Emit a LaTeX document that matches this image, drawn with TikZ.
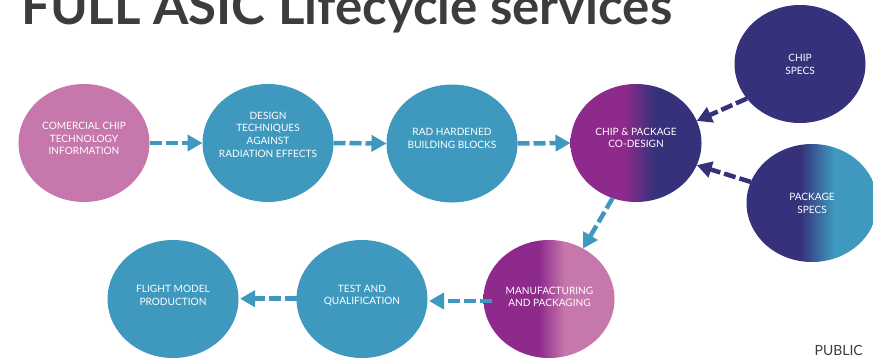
\documentclass[tikz,border=0pt]{standalone}
\usepackage{fontspec}
\setmainfont{Lato}
\usetikzlibrary{shapes.geometric,arrows.meta}
\definecolor{pinkc}{HTML}{C677AB}
\definecolor{teal}{HTML}{3F99BF}
\definecolor{navy}{HTML}{36317B}
\definecolor{purp}{HTML}{8E2A8B}
\definecolor{ttl}{HTML}{3C3C3B}
\pgfdeclarehorizontalshading{gradA}{100bp}{color(0bp)=(purp); color(45.5bp)=(purp); color(57bp)=(navy); color(100bp)=(navy)}
\pgfdeclarehorizontalshading{gradB}{100bp}{color(0bp)=(navy); color(45.5bp)=(navy); color(58.5bp)=(teal); color(100bp)=(teal)}
\pgfdeclarehorizontalshading{gradC}{100bp}{color(0bp)=(purp); color(46bp)=(purp); color(56bp)=(pinkc); color(100bp)=(pinkc)}
\tikzset{
  blob/.style={ellipse,minimum width=131pt,minimum height=118pt,inner sep=0pt,outer sep=0pt},
  lbl/.style={align=center,text=white,font=\fontsize{10.1}{12.7}\selectfont,inner sep=0pt},
  flow/.style={line width=4.5pt,dash pattern=on 12pt off 4pt,-{Triangle[length=15pt,width=16pt]}},
}
\begin{document}
\begin{tikzpicture}[x=1pt,y=-1pt]
\useasboundingbox (0,0) rectangle (873,357);
\clip (0,0) rectangle (873,357);
\node[anchor=base west,inner sep=0pt,text=ttl,font=\fontsize{51}{56}\selectfont\bfseries] (title) at (21,24) {FULL ASIC Lifecycle services};
\node[blob,fill=pinkc] (n1) at (84,143) {};
\node[blob,fill=teal] (n2) at (268,143) {};
\node[blob,fill=teal] (n3) at (452,143.5) {};
\node[blob,shading=gradA] (n4) at (636,143) {};
\node[blob,fill=navy] (n5) at (800,64) {};
\node[blob,shading=gradB] (n6) at (812,203) {};
\node[blob,shading=gradC] (n7) at (549,299) {};
\node[blob,fill=teal] (n8) at (362,299) {};
\node[blob,fill=teal] (n9) at (173,299) {};
\node[lbl] (t1) at (84,138.5) {COMERCIAL CHIP\\TECHNOLOGY\\INFORMATION};
\node[lbl] (t2) at (268,134.5) {DESIGN\\TECHNIQUES\\AGAINST\\RADIATION EFFECTS};
\node[lbl] (t3) at (452,138.5) {RAD HARDENED\\BUILDING BLOCKS};
\node[lbl] (t4) at (636,138) {CHIP \& PACKAGE\\CO-DESIGN};
\node[lbl] (t5) at (800,64.5) {CHIP\\SPECS};
\node[lbl] (t6) at (812,203.5) {PACKAGE\\SPECS};
\node[lbl] (t7) at (549.5,297) {MANUFACTURING\\AND PACKAGING};
\node[lbl] (t8) at (362,295.5) {TEST AND\\QUALIFICATION};
\node[lbl] (t9) at (173,295.5) {FLIGHT MODEL\\PRODUCTION};
\node[anchor=base east,inner sep=0pt,text=ttl,font=\fontsize{14}{16}\selectfont] (pub) at (863,355) {PUBLIC};
\coordinate (a5s) at (492,301);
\coordinate (a5e) at (429,301);
\coordinate (a6s) at (297,298.7);
\coordinate (a6e) at (240,298.7);
\draw[flow,teal] (n1.east) -- (n2.west);
\draw[flow,teal] (n2.east) -- (n3.west);
\draw[flow,teal] (n3.east) -- (n4.west);
\draw[flow,navy] (n5.213) -- (n4.20);
\draw[flow,navy] (n6.161) -- (n4.-20);
\draw[flow,teal] (n4.247) -- (n7.56);
\draw[flow,teal] (a5s) -- (a5e);
\draw[flow,teal] (a6s) -- (a6e);
\end{tikzpicture}
\end{document}
